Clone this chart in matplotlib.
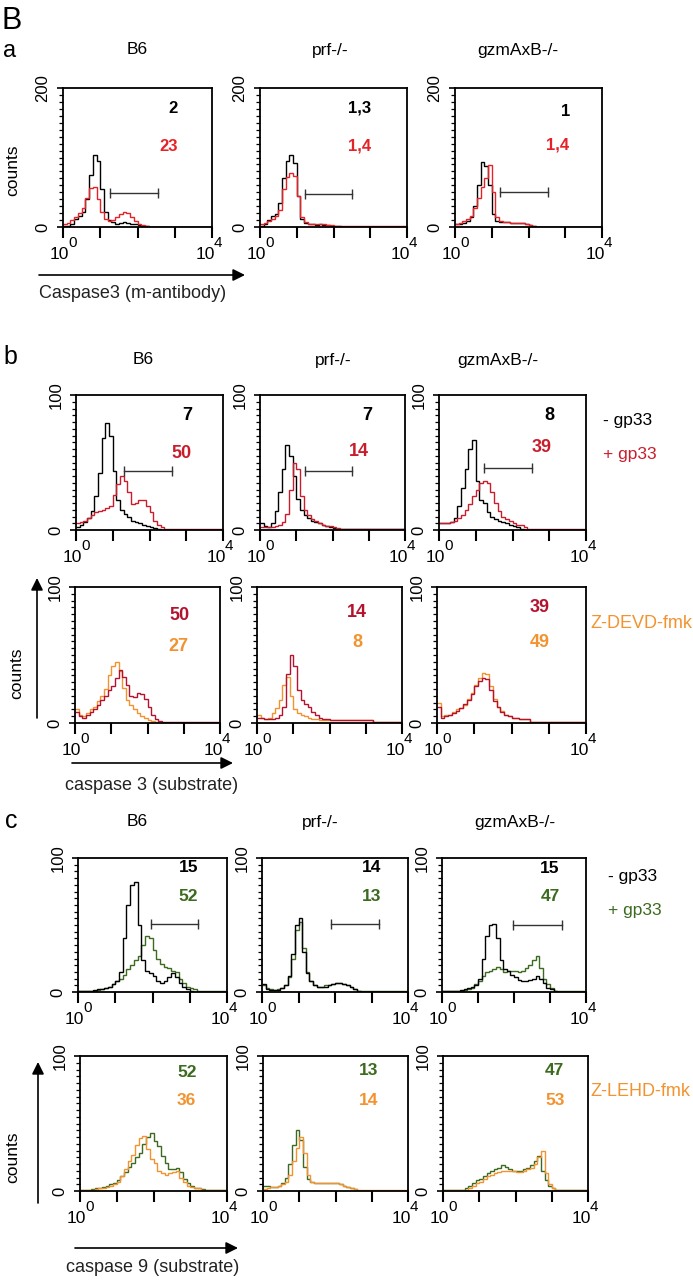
import numpy as np
import matplotlib.pyplot as plt
from matplotlib.ticker import LogLocator, MultipleLocator, NullFormatter
from matplotlib.transforms import offset_copy

plt.rcParams['font.family'] = ['Liberation Sans', 'DejaVu Sans']

W, H = 693, 1280

# channel edges: 40 channels of 0.1 decade from 10^0 to 10^4
EDGES = 10 ** np.linspace(0, 4, 41)

genotypes = ['B6', 'prf-/-', 'gzmAxB-/-']

# ---- a: caspase 3 (antibody), counts 0-200 ----
a_b6_ctrl = [1, 2, 5, 12, 16, 22, 40, 75, 104, 95, 55, 22, 10, 7, 5, 6, 7, 6, 5, 4,
             3, 2, 1, 0.5, 0.5, 0.5, 0.5, 0.5, 0.5, 0.5, 0.5, 0.5, 0.5, 0.5, 0.5, 0.5, 0.5, 0.5, 0.5, 0.5]
a_b6_gp33 = [5, 6, 10, 15, 20, 28, 42, 56, 58, 40, 22, 12, 9, 10, 14, 19, 22, 20, 14, 9,
             5, 3, 1.5, 0.7, 0.7, 0.7, 0.7, 0.7, 0.7, 0.7, 0.7, 0.7, 0.7, 0.7, 0.7, 0.7, 0.7, 0.7, 0.7, 0.7]
a_prf_ctrl = [2, 4, 10, 16, 18, 35, 70, 95, 104, 92, 45, 12, 6, 4, 4, 3, 4, 3, 3, 2,
              1.5, 1, 0.7, 0.7, 0.7, 0.7, 0.7, 0.7, 0.7, 0.7, 0.7, 0.7, 0.7, 0.7, 0.7, 0.7, 0.7, 0.7, 0.7, 0.7]
a_prf_gp33 = [4, 6, 8, 12, 16, 25, 55, 72, 77, 74, 45, 15, 7, 5, 4, 4, 5, 4, 3, 3,
              2, 1.5, 1, 1, 1, 1, 1, 1, 1, 1, 1, 1, 1, 1, 1, 1, 1, 1, 1, 1]
a_gzm_ctrl = [4, 5, 6, 8, 14, 30, 60, 94, 88, 60, 18, 9, 7, 7, 7, 6, 6, 6, 6, 5,
              3, 1, 0.5, 0.5, 0.5, 0.5, 0.5, 0.5, 0.5, 0.5, 0.5, 0.5, 0.5, 0.5, 0.5, 0.5, 0.5, 0.5, 0.5, 0.5]
a_gzm_gp33 = [4, 6, 9, 12, 16, 28, 42, 58, 70, 89, 50, 14, 8, 7, 7, 6, 6, 6, 6, 5,
              3, 1.5, 0.7, 0.7, 0.7, 0.7, 0.7, 0.7, 0.7, 0.7, 0.7, 0.7, 0.7, 0.7, 0.7, 0.7, 0.7, 0.7, 0.7, 0.7]
a_pct_ctrl = ['2', '1,3', '1']
a_pct_gp33 = ['23', '1,4', '1,4']
a_gates = [(1.26, 2.55, 49), (1.22, 2.5, 48), (1.23, 2.52, 50)]

# ---- b: caspase 3 substrate, counts 0-100 ----
b_b6_ctrl = [2.5, 4, 6, 9, 14, 25, 42, 68, 79, 70, 44, 22, 15, 12, 10, 7, 6, 5, 4, 3,
             2.5, 1.5, 1, 0.3, 0.3, 0.3, 0.3, 0.3, 0.3, 0.3, 0.3, 0.3, 0.3, 0.3, 0.3, 0.3, 0.3, 0.3, 0.3, 0.3]
b_b6_gp33 = [5, 6, 7, 9, 11, 13, 14, 15, 16, 18, 26, 34, 40, 36, 28, 19, 20, 22, 22, 18,
             13, 7, 4, 2, 1, 0.6, 0.6, 0.6, 0.6, 0.6, 0.6, 0.6, 0.6, 0.6, 0.6, 0.6, 0.6, 0.6, 0.6, 0.6]
b_prf_ctrl = [5, 3, 2, 5, 14, 28, 45, 63, 55, 40, 23, 15, 11, 9, 7, 6, 5, 4, 3, 2,
              1.5, 0.5, 0.5, 0.5, 0.5, 0.5, 0.5, 0.5, 0.5, 0.5, 0.5, 0.5, 0.5, 0.5, 0.5, 0.5, 0.5, 0.5, 0.5, 0.5]
b_prf_gp33 = [2, 2, 2, 2, 3, 4, 6, 12, 30, 50, 45, 25, 15, 11, 8, 7, 5, 4, 3, 3,
              2, 1.5, 1, 1, 1, 1, 1, 1, 1, 1, 1, 1, 1, 1, 1, 1, 1, 1, 1, 1]
b_gzm_ctrl = [5, 5, 5, 6, 9, 18, 31, 45, 60, 67, 36, 22, 20, 13, 10, 8, 7, 6, 5, 4,
              3, 2, 1, 0.3, 0.3, 0.3, 0.3, 0.3, 0.3, 0.3, 0.3, 0.3, 0.3, 0.3, 0.3, 0.3, 0.3, 0.3, 0.3, 0.3]
b_gzm_gp33 = [5, 5, 5, 6, 7, 9, 11, 15, 19, 25, 30, 35, 36, 35, 28, 20, 14, 10, 8, 7,
              5, 4, 4, 2, 0.7, 0.7, 0.7, 0.7, 0.7, 0.7, 0.7, 0.7, 0.7, 0.7, 0.7, 0.7, 0.7, 0.7, 0.7, 0.7]
b_pct_ctrl = ['7', '7', '8']
b_pct_gp33 = ['50', '14', '39']
b_gates = [(1.31, 2.6, 44), (1.24, 2.54, 44), (1.23, 2.52, 46)]

# + gp33 with Z-DEVD-fmk
b_b6_devd_ref = [8, 5, 4, 6, 8, 10, 13, 17, 20, 24, 27, 33, 39, 34, 28, 20, 19, 22, 21, 18,
                 12, 6, 3, 1.5, 1, 0.6, 0.6, 0.6, 0.6, 0.6, 0.6, 0.6, 0.6, 0.6, 0.6, 0.6, 0.6, 0.6, 0.6, 0.6]
b_b6_devd = [10, 6, 5, 7, 10, 12, 16, 20, 25, 35, 42, 45, 38, 26, 17, 13, 10, 7, 5, 3.5,
             2.5, 1.5, 1, 0.3, 0.3, 0.3, 0.3, 0.3, 0.3, 0.3, 0.3, 0.3, 0.3, 0.3, 0.3, 0.3, 0.3, 0.3, 0.3, 0.3]
b_prf_devd_ref = [4, 4, 3, 3, 3, 4, 6, 12, 36, 50, 42, 24, 17, 14, 12, 8, 6, 4, 3, 3,
                  2, 2, 2, 2, 2, 2, 2, 2, 2, 2, 2, 2, 0.5, 0.5, 0.5, 0.5, 0.5, 0.5, 0.5, 0.5]
b_prf_devd = [6, 4, 3, 4, 7, 11, 17, 28, 34, 20, 10, 7, 6, 5, 4, 3, 3, 2, 2, 2,
              2, 2, 2, 2, 2, 2, 2, 2, 2, 2, 2, 2, 0.5, 0.5, 0.5, 0.5, 0.5, 0.5, 0.5, 0.5]
b_gzm_devd_ref = [12, 4, 5, 6, 7, 9, 11, 14, 17, 21, 27, 31, 33, 32, 24, 16, 12, 8, 6, 5,
                  4, 4, 3, 3, 3, 1, 0.5, 0.5, 0.5, 0.5, 0.5, 0.5, 0.5, 0.5, 0.5, 0.5, 0.5, 0.5, 0.5, 0.5]
b_gzm_devd = [15, 5, 6, 6, 8, 10, 11, 13, 18, 22, 28, 33, 37, 36, 27, 18, 12, 9, 6, 5,
              4, 4, 3, 3, 3, 1, 0.7, 0.7, 0.7, 0.7, 0.7, 0.7, 0.7, 0.7, 0.7, 0.7, 0.7, 0.7, 0.7, 0.7]
b_pct_devd = ['27', '8', '49']

# ---- c: caspase 9 substrate, counts 0-100 ----
c_b6_ctrl = [0.5, 0.5, 1, 1, 1.5, 2, 2, 3, 4, 6, 8, 15, 40, 65, 80, 82, 50, 24, 16, 14,
             12, 8, 7, 8, 11, 14, 11, 7, 4, 2, 1, 0.3, 0.3, 0.3, 0.3, 0.3, 0.3, 0.3, 0.3, 0.3]
c_b6_gp33 = [0.5, 0.5, 1, 1, 1, 1.5, 2, 3, 4, 6, 8, 10, 13, 17, 20, 24, 27, 35, 42, 40,
             31, 25, 21, 19, 18, 16, 15, 10, 7, 4, 3, 2, 1, 0.5, 0.5, 0.5, 0.5, 0.5, 0.5, 0.5]
c_prf_ctrl = [6, 2.5, 1.5, 1.2, 1.5, 3, 5, 12, 28, 50, 55, 30, 14, 8, 5, 4, 4, 4, 5, 6,
              7, 7, 6, 5, 4, 2, 1, 0.3, 0.3, 0.3, 0.3, 0.3, 0.3, 0.3, 0.3, 0.3, 0.3, 0.3, 0.3, 0.3]
c_prf_gp33 = [5, 3, 2, 1.5, 2, 3, 5, 11, 25, 46, 52, 33, 15, 8, 5, 4, 4, 5, 5, 6,
              7, 7, 6, 5, 4, 2, 1, 0.5, 0.5, 0.5, 0.5, 0.5, 0.5, 0.5, 0.5, 0.5, 0.5, 0.5, 0.5, 0.5]
c_gzm_ctrl = [0.5, 0.5, 0.5, 0.5, 0.5, 1.5, 2.5, 3, 4, 5, 10, 25, 42, 50, 51, 40, 24, 17, 16, 13,
              11, 9, 8, 8, 9, 10, 12, 10, 7, 3, 2, 1, 0.3, 0.3, 0.3, 0.3, 0.3, 0.3, 0.3, 0.3]
c_gzm_gp33 = [0.5, 0.5, 0.5, 0.5, 0.5, 1, 1.5, 2, 3, 6, 8, 12, 15, 16, 17, 19, 17, 15, 16, 16,
              16, 15, 16, 18, 20, 24, 27, 18, 10, 6, 3, 1, 0.5, 0.5, 0.5, 0.5, 0.5, 0.5, 0.5, 0.5]
c_pct_ctrl = ['15', '14', '15']
c_pct_gp33 = ['52', '13', '47']
c_gates = [(1.97, 3.23, 51), (1.9, 3.2, 51), (1.97, 3.33, 50)]

# + gp33 with Z-LEHD-fmk
c_b6_lehd_ref = [1, 1, 1, 1.5, 2, 2.5, 3, 4, 5, 6, 8, 11, 14, 18, 21, 25, 28, 35, 40, 43,
                 37, 33, 26, 21, 16, 16, 17, 14, 9, 6, 4, 2.5, 2, 1.5, 1, 0.5, 0.5, 0.5, 0.5, 0.5]
c_b6_lehd = [0.7, 0.7, 1, 1, 1.5, 2, 2.5, 3, 4, 5, 7, 11, 16, 22, 27, 34, 39, 41, 31, 24,
             21, 15, 13, 12, 13, 14, 15, 10, 7, 4, 3, 2, 2, 1, 1, 1, 1, 1, 1, 1]
c_prf_lehd_ref = [4, 4, 3, 3, 4, 6, 10, 20, 34, 45, 38, 18, 9, 7, 6, 6, 6, 6, 6, 6,
                  6, 5, 4, 3, 2, 1.5, 0.3, 0.3, 0.3, 0.3, 0.3, 0.3, 0.3, 0.3, 0.3, 0.3, 0.3, 0.3, 0.3, 0.3]
c_prf_lehd = [1.5, 2, 3, 3, 4, 5, 7, 12, 22, 32, 40, 28, 12, 7, 6, 6, 6, 6, 6, 6,
              6, 5, 4, 3, 2, 1.5, 1, 1, 1, 1, 1, 1, 1, 1, 1, 1, 1, 1, 1, 1]
c_gzm_lehd_ref = [0.5, 0.5, 0.5, 0.5, 0.5, 0.5, 2, 4, 6, 8, 9, 11, 13, 15, 16, 17, 19, 18, 16, 15,
                  15, 15, 16, 17, 19, 22, 26, 15, 8, 4, 2, 1, 0.5, 0.5, 0.5, 0.5, 0.5, 0.5, 0.5, 0.5]
c_gzm_lehd = [0.5, 0.5, 0.5, 0.5, 0.5, 0.5, 0.5, 2, 4, 6, 7, 9, 11, 12, 13, 14, 15, 15, 15, 15,
              14, 14, 15, 16, 17, 20, 25, 30, 13, 5, 2, 1, 0.5, 0.5, 0.5, 0.5, 0.5, 0.5, 0.5, 0.5]
c_pct_lehd = ['36', '14', '53']

RED = '#e62229'
RED_B = '#c81e2c'
DARK_RED = '#b3132e'
ORANGE = '#f2932f'
GREEN = '#3c6a1f'
GATE = '#333333'

fig = plt.figure(figsize=(W / 100, H / 100), dpi=100)
over = fig.add_axes([0, 0, 1, 1])
over.set_xlim(0, W)
over.set_ylim(H, 0)
over.axis('off')


def panel(box, ymax, curves, colors, texts, numsize, gate=None):
    l, r, t, b = box
    ax = fig.add_axes([l / W, 1 - b / H, (r - l) / W, (b - t) / H])
    for vals, col in zip(curves, colors):
        ax.stairs(vals, EDGES, color=col, lw=1.0, baseline=None)
    ax.set_xscale('log')
    ax.set_xlim(1, 1e4)
    ax.set_ylim(0, ymax)
    ax.set_xticks([1, 10, 100, 1000, 10000])
    ax.set_xticklabels([])
    ax.xaxis.set_minor_locator(LogLocator(base=10, subs=np.arange(2, 10)))
    ax.xaxis.set_minor_formatter(NullFormatter())
    ax.set_yticks([0, ymax])
    ax.set_yticklabels(['0', str(ymax)], rotation=90, va='center')
    ax.yaxis.set_minor_locator(MultipleLocator(ymax / 20))
    ax.tick_params(axis='x', which='major', length=8, width=1.5)
    ax.tick_params(axis='x', which='minor', length=4, width=0.9)
    ax.tick_params(axis='y', which='major', length=4, width=1.2, labelsize=12, pad=5)
    ax.tick_params(axis='y', which='minor', length=3, width=0.9)
    for s in ax.spines.values():
        s.set_linewidth(1.3)
    # decade labels 10^0 and 10^4 with full-size exponents (baseline offsets in pixels)
    for xf, dx, sup in [(0, 6, '0'), (1, 3, '4')]:
        base_tr = offset_copy(ax.transAxes, fig=fig, x=dx, y=-32, units='dots')
        sup_tr = offset_copy(ax.transAxes, fig=fig, x=dx - 1, y=-20, units='dots')
        ax.text(xf, 0, '10', transform=base_tr, ha='right', va='baseline', fontsize=12.5)
        ax.text(xf, 0, sup, transform=sup_tr, ha='left', va='baseline', fontsize=11)
    for txt, x, y, col in texts:
        ax.text(x, y, txt, transform=ax.transAxes, ha='center', va='center',
                fontsize=numsize, fontweight='bold', color=col)
    if gate is not None:
        g0, g1, gy = gate
        ax.plot([10 ** g0, 10 ** g1], [gy, gy], color=GATE, lw=1.0,
                marker='|', markersize=7, markeredgewidth=1.0)
    return ax


# ---- section a ----
a_boxes = [(63, 212, 88, 227), (260, 407, 88, 227), (455, 602, 88, 227)]
a_ctrl = [a_b6_ctrl, a_prf_ctrl, a_gzm_ctrl]
a_gp = [a_b6_gp33, a_prf_gp33, a_gzm_gp33]
a_txt = [((0.74, 0.855), (0.71, 0.58)), ((0.68, 0.855), (0.68, 0.58)), ((0.75, 0.83), (0.70, 0.59))]
for i in range(3):
    (x1, y1), (x2, y2) = a_txt[i]
    panel(a_boxes[i], 200, [a_ctrl[i], a_gp[i]], ['black', RED],
          [(a_pct_ctrl[i], x1, y1, 'black'), (a_pct_gp33[i], x2, y2, RED)], 12, a_gates[i])

# ---- section b ----
b1_boxes = [(76, 223, 395, 530), (260, 405, 395, 530), (439, 586, 395, 530)]
b2_boxes = [(75, 220, 587, 723), (257, 402, 587, 723), (437, 586, 587, 723)]
b_ctrl = [b_b6_ctrl, b_prf_ctrl, b_gzm_ctrl]
b_gp = [b_b6_gp33, b_prf_gp33, b_gzm_gp33]
b_ref = [b_b6_devd_ref, b_prf_devd_ref, b_gzm_devd_ref]
b_inh = [b_b6_devd, b_prf_devd, b_gzm_devd]
b1_txt = [((0.76, 0.85), (0.72, 0.57)), ((0.74, 0.85), (0.68, 0.58)), ((0.75, 0.85), (0.70, 0.61))]
b2_txt = [((0.72, 0.79), (0.71, 0.56)), ((0.69, 0.81), (0.69, 0.59)), ((0.69, 0.85), (0.69, 0.59))]
for i in range(3):
    (x1, y1), (x2, y2) = b1_txt[i]
    panel(b1_boxes[i], 100, [b_ctrl[i], b_gp[i]], ['black', RED_B],
          [(b_pct_ctrl[i], x1, y1, 'black'), (b_pct_gp33[i], x2, y2, RED_B)], 13, b_gates[i])
    (x1, y1), (x2, y2) = b2_txt[i]
    panel(b2_boxes[i], 100, [b_inh[i], b_ref[i]], [ORANGE, DARK_RED],
          [(b_pct_gp33[i], x1, y1, DARK_RED), (b_pct_devd[i], x2, y2, ORANGE)], 13)

# ---- section c ----
c1_boxes = [(78, 227, 858, 992), (262, 408, 858, 992), (442, 586, 858, 992)]
c2_boxes = [(80, 227, 1056, 1191), (263, 408, 1056, 1191), (443, 588, 1056, 1191)]
c_ctrl = [c_b6_ctrl, c_prf_ctrl, c_gzm_ctrl]
c_gp = [c_b6_gp33, c_prf_gp33, c_gzm_gp33]
c_ref = [c_b6_lehd_ref, c_prf_lehd_ref, c_gzm_lehd_ref]
c_inh = [c_b6_lehd, c_prf_lehd, c_gzm_lehd]
c1_txt = [((0.74, 0.93), (0.74, 0.71)), ((0.75, 0.93), (0.75, 0.71)), ((0.75, 0.92), (0.75, 0.71))]
c2_txt = [((0.73, 0.88), (0.72, 0.67)), ((0.73, 0.89), (0.73, 0.67)), ((0.77, 0.89), (0.77, 0.67))]
for i in range(3):
    (x1, y1), (x2, y2) = c1_txt[i]
    panel(c1_boxes[i], 100, [c_gp[i], c_ctrl[i]], [GREEN, 'black'],
          [(c_pct_ctrl[i], x1, y1, 'black'), (c_pct_gp33[i], x2, y2, GREEN)], 12.5, c_gates[i])
    (x1, y1), (x2, y2) = c2_txt[i]
    panel(c2_boxes[i], 100, [c_ref[i], c_inh[i]], [GREEN, ORANGE],
          [(c_pct_gp33[i], x1, y1, GREEN), (c_pct_lehd[i], x2, y2, ORANGE)], 12.5)

# ---- labels, titles, arrows (figure pixel coordinates) ----
over.text(1, 29, 'B', fontsize=22, va='baseline', ha='left')
over.text(3, 57, 'a', fontsize=17, va='baseline', ha='left')
over.text(3, 364, 'b', fontsize=18, va='baseline', ha='left')
over.text(5, 828, 'c', fontsize=18, va='baseline', ha='left')

for xs, y in [((137, 330, 518), 50), ((143, 333, 498), 360), ((137, 320, 515), 822)]:
    for x, g in zip(xs, genotypes):
        over.text(x, y, g, fontsize=12.5, ha='center', va='center')

arrow = dict(arrowstyle='-|>', color='black', lw=1.2, mutation_scale=18, shrinkA=0, shrinkB=0)
# a
over.text(13, 170, 'counts', fontsize=12.5, rotation=90, ha='center', va='center')
over.annotate('', xy=(245, 275), xytext=(39, 275), arrowprops=arrow)
over.text(39, 293, 'Caspase3 (m-antibody)', fontsize=13, ha='left', va='center', color='#222222')
# b
over.text(17, 673, 'counts', fontsize=12.5, rotation=90, ha='center', va='center')
over.annotate('', xy=(37, 578), xytext=(37, 718), arrowprops=arrow)
over.annotate('', xy=(233, 763), xytext=(72, 763), arrowprops=arrow)
over.text(65, 785, 'caspase 3 (substrate)', fontsize=13, ha='left', va='center', color='#222222')
over.text(603, 420, '- gp33', fontsize=12.5, ha='left', va='center')
over.text(603, 455, '+ gp33', fontsize=12.5, ha='left', va='center', color=RED_B)
over.text(590, 624, 'Z-DEVD-fmk', fontsize=13, ha='left', va='center', color=ORANGE)
# c
over.text(13, 1157, 'counts', fontsize=12.5, rotation=90, ha='center', va='center')
over.annotate('', xy=(38, 1062), xytext=(38, 1203), arrowprops=arrow)
over.annotate('', xy=(238, 1248), xytext=(75, 1248), arrowprops=arrow)
over.text(66, 1268, 'caspase 9 (substrate)', fontsize=13, ha='left', va='center', color='#222222')
over.text(608, 877, '- gp33', fontsize=12.5, ha='left', va='center')
over.text(608, 910, '+ gp33', fontsize=12.5, ha='left', va='center', color=GREEN)
over.text(590, 1092, 'Z-LEHD-fmk', fontsize=13, ha='left', va='center', color=ORANGE)

fig.savefig('out.png', dpi=100)
